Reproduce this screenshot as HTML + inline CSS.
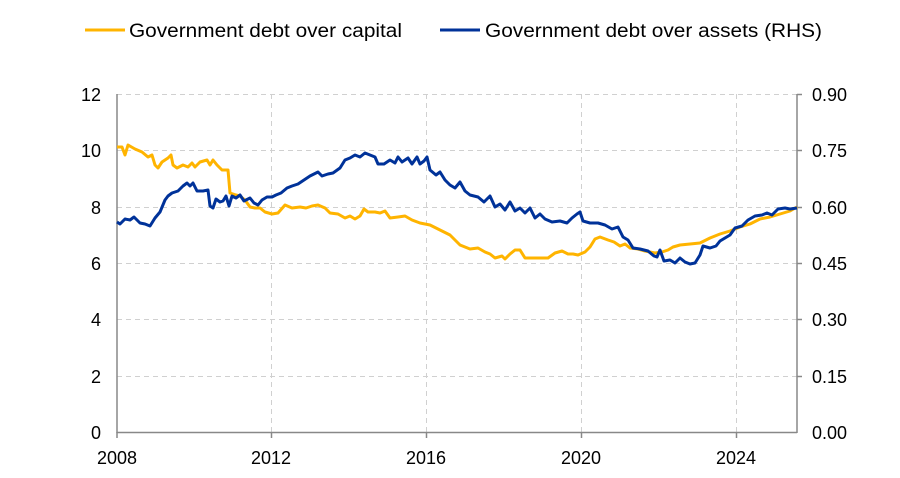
<!DOCTYPE html>
<html><head><meta charset="utf-8"><style>body{margin:0;background:#fff}svg{display:block}</style></head><body>
<svg width="900" height="478" xmlns="http://www.w3.org/2000/svg" font-family="Liberation Sans, Arial, sans-serif">
<rect width="900" height="478" fill="#fff"/>
<g stroke="#d0d0d0" stroke-dasharray="5,4" stroke-width="1">
<line x1="117" x2="797" y1="94.5" y2="94.5"/><line x1="117" x2="797" y1="150.5" y2="150.5"/><line x1="117" x2="797" y1="207.5" y2="207.5"/><line x1="117" x2="797" y1="263.5" y2="263.5"/><line x1="117" x2="797" y1="319.5" y2="319.5"/><line x1="117" x2="797" y1="376.5" y2="376.5"/>
<line x1="271.5" x2="271.5" y1="94" y2="432"/><line x1="426.5" x2="426.5" y1="94" y2="432"/><line x1="581.5" x2="581.5" y1="94" y2="432"/><line x1="736.5" x2="736.5" y1="94" y2="432"/>
</g>
<g stroke="#888" stroke-width="1.5">
<line x1="117" x2="117" y1="94" y2="433"/><line x1="797" x2="797" y1="94" y2="433"/><line x1="117" x2="797" y1="432.5" y2="432.5"/>
<line x1="797" x2="802" y1="94.5" y2="94.5"/><line x1="797" x2="802" y1="150.5" y2="150.5"/><line x1="797" x2="802" y1="207.5" y2="207.5"/><line x1="797" x2="802" y1="263.5" y2="263.5"/><line x1="797" x2="802" y1="319.5" y2="319.5"/><line x1="797" x2="802" y1="376.5" y2="376.5"/>
<line x1="117" x2="117" y1="432" y2="438"/><line x1="271.5" x2="271.5" y1="432" y2="438"/><line x1="426.5" x2="426.5" y1="432" y2="438"/><line x1="581.5" x2="581.5" y1="432" y2="438"/><line x1="736.5" x2="736.5" y1="432" y2="438"/>
</g>
<g font-size="18" fill="#000" text-anchor="end">
<text x="101" y="101">12</text><text x="101" y="157">10</text><text x="101" y="214">8</text><text x="101" y="270">6</text><text x="101" y="326">4</text><text x="101" y="383">2</text><text x="101" y="439">0</text>
</g>
<g font-size="18" fill="#000" text-anchor="start">
<text x="812" y="101">0.90</text><text x="812" y="157">0.75</text><text x="812" y="214">0.60</text><text x="812" y="270">0.45</text><text x="812" y="326">0.30</text><text x="812" y="383">0.15</text><text x="812" y="439">0.00</text>
</g>
<g font-size="18" fill="#000" text-anchor="middle">
<text x="117" y="464">2008</text><text x="271" y="464">2012</text><text x="426" y="464">2016</text><text x="581" y="464">2020</text><text x="736" y="464">2024</text>
</g>
<polyline fill="none" stroke="#ffb400" stroke-width="3" stroke-linejoin="round" points="117,147 122,147 125,155 128,145 135,149 142,152 148,157 152,155 155,165 158,168 162,162 168,158 171,155 173,165 177,168 183,165 188,167 192,163 195,167 200,162 207,160 210,165 213,160 217,165 222,170 228,170 230,193 236,195 240,196 245,200 250,207 255,208 260,208 265,212 272,214 278,213 285,205 292,208 300,207 306,208 312,206 318,205 325,208 330,213 338,214 345,218 350,216 355,219 360,216 364,209 368,212 375,212 380,213 385,211 390,218 398,217 405,216 412,220 420,223 425,224 430,225 440,230 450,235 460,245 470,249 478,248 485,252 490,254 495,258 502,256 505,259 510,254 515,250 520,250 525,258 540,258 548,258 555,253 562,251 568,254 573,254 578,255 585,252 590,247 595,239 600,237 608,240 614,242 620,246 625,244 630,248 638,249 645,251 655,253 662,252 668,250 673,247 680,245 690,244 700,243 710,238 720,234 730,231 740,227 750,224 760,219 770,217 780,214 790,211 797,207"/>
<polyline fill="none" stroke="#003299" stroke-width="3" stroke-linejoin="round" points="117,222 120,224 125,219 130,220 134,217 140,223 145,224 150,226 155,218 160,212 165,200 168,196 172,193 178,191 183,186 187,183 190,186 193,183 197,191 203,191 208,190 210,206 213,208 216,199 220,202 223,201 226,196 229,206 232,196 236,198 240,195 244,201 250,198 254,203 258,205 262,200 267,197 272,197 276,195 281,193 287,188 292,186 298,184 304,180 310,176 318,172 322,176 328,174 333,173 340,168 345,160 350,158 355,155 360,157 365,153 370,155 375,157 378,164 384,164 390,160 395,163 398,157 402,162 408,158 412,164 417,157 420,164 424,161 427,157 430,170 436,175 440,172 445,180 450,185 455,188 460,182 465,191 470,195 478,197 484,202 490,196 495,207 500,204 505,210 510,202 515,211 520,208 525,213 530,208 535,218 540,214 545,219 552,222 560,221 567,223 572,218 577,214 580,212 583,221 590,223 598,223 605,225 612,229 618,227 623,237 628,240 633,248 640,249 648,251 654,256 657,257 660,250 664,261 670,260 675,263 680,258 685,262 690,264 695,263 700,255 703,246 710,248 716,246 720,241 725,238 730,235 735,228 742,226 748,220 755,216 762,215 767,213 772,215 778,209 785,208 790,209 797,208"/>
<line x1="85" x2="125" y1="30" y2="30" stroke="#ffb400" stroke-width="3"/>
<text x="129" y="37" font-size="19" textLength="273" lengthAdjust="spacingAndGlyphs">Government debt over capital</text>
<line x1="440" x2="480" y1="30" y2="30" stroke="#003299" stroke-width="3"/>
<text x="485" y="37" font-size="19" textLength="337" lengthAdjust="spacingAndGlyphs">Government debt over assets (RHS)</text>
</svg>
</body></html>
